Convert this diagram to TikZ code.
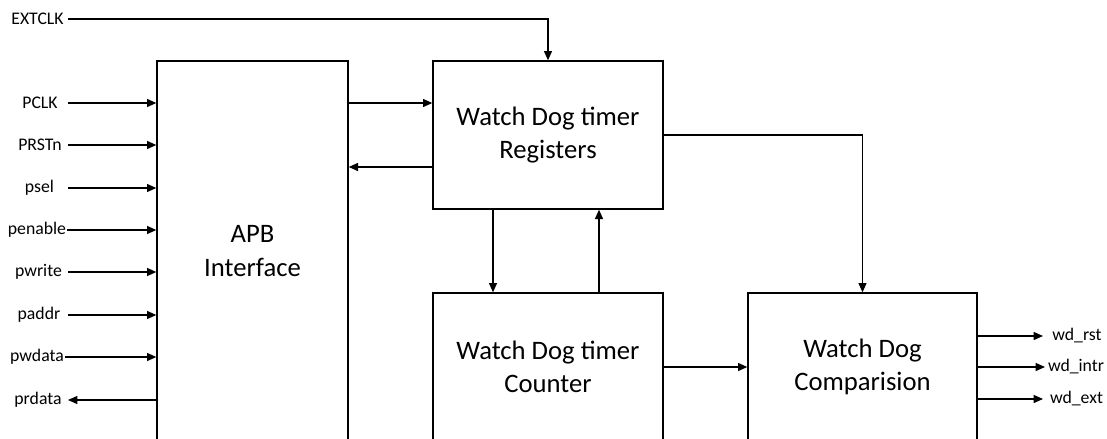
\documentclass[tikz,border=0pt]{standalone}
\usepackage{fontspec}
\setmainfont{Carlito}
\usetikzlibrary{arrows.meta}
\tikzset{
  blk/.style={draw=black, line width=1pt, fill=white, inner sep=0pt, font=\fontsize{20}{25}\selectfont, align=center},
  sig/.style={inner sep=0pt, font=\fontsize{13.3}{16}\selectfont},
  wire/.style={line width=1pt, draw=black},
  arr/.style={wire, -{Triangle[length=7pt,width=6pt]}},
}
\begin{document}
\begin{tikzpicture}[x=0.75pt, y=-0.75pt]
\useasboundingbox (0,0) rectangle (1107,439);
\clip (0,0) rectangle (1107,439);
% blocks
\node[blk, minimum width=191*0.75pt, minimum height=380*0.75pt] (apb) at (252.5,251) {APB\\Interface};
\node[blk, minimum width=230*0.75pt, minimum height=148*0.75pt] (reg) at (548,135) {Watch Dog timer\\Registers};
\node[blk, minimum width=230*0.75pt, minimum height=148*0.75pt] (cnt) at (548,367) {Watch Dog timer\\Counter};
\node[blk, minimum width=229*0.75pt, minimum height=148*0.75pt] (cmp) at (862.5,367) {Watch Dog\\Comparision};
% left signal labels
\node[sig] (extclk) at (37.5,19) {EXTCLK};
\node[sig] (pclk) at (40,103) {PCLK};
\node[sig] (prstn) at (40,145) {PRSTn};
\node[sig] (psel) at (39.5,188) {psel};
\node[sig] (penable) at (37,230) {penable};
\node[sig] (pwrite) at (38.5,272) {pwrite};
\node[sig] (paddr) at (39,315) {paddr};
\node[sig] (pwdata) at (37,357) {pwdata};
\node[sig] (prdata) at (38,400) {prdata};
\coordinate (extS) at (68,19);
\coordinate (pclkS) at (68,103);
\coordinate (prstnS) at (68,145);
\coordinate (pselS) at (68,188);
\coordinate (penableS) at (67,230);
\coordinate (pwriteS) at (68,272);
\coordinate (paddrS) at (68,315);
\coordinate (pwdataS) at (65,357);
\coordinate (prdataE) at (68,400);
% right signal labels
\node[sig] (wdrst) at (1077,336) {wd\_rst};
\node[sig] (wdintr) at (1076,367) {wd\_intr};
\node[sig] (wdext) at (1076.5,399) {wd\_ext};
\coordinate (rstE) at (1043,336);
\coordinate (intrE) at (1045,367);
\coordinate (extE) at (1043,399);
% helper coordinates
\coordinate (yW) at (0,103);
\coordinate (yR) at (0,167);
\coordinate (xD) at (493,0);
\coordinate (xU) at (599,0);
% inputs
\draw[arr] (extS) -| (reg.north);
\draw[arr] (pclkS) -- (apb.west |- pclkS);
\draw[arr] (prstnS) -- (apb.west |- prstnS);
\draw[arr] (pselS) -- (apb.west |- pselS);
\draw[arr] (penableS) -- (apb.west |- penableS);
\draw[arr] (pwriteS) -- (apb.west |- pwriteS);
\draw[arr] (paddrS) -- (apb.west |- paddrS);
\draw[arr] (pwdataS) -- (apb.west |- pwdataS);
\draw[arr] (apb.west |- prdataE) -- (prdataE);
% internal
\draw[arr] (apb.east |- yW) -- (reg.west |- yW);
\draw[arr] (reg.west |- yR) -- (apb.east |- yR);
\draw[arr] (reg.south -| xD) -- (cnt.north -| xD);
\draw[arr] (cnt.north -| xU) -- (reg.south -| xU);
\draw[arr] (reg.east) -| (cmp.north);
\draw[arr] (cnt.east) -- (cmp.west);
% outputs
\draw[arr] (cmp.east |- rstE) -- (rstE);
\draw[arr] (cmp.east |- intrE) -- (intrE);
\draw[arr] (cmp.east |- extE) -- (extE);
\end{tikzpicture}
\end{document}
